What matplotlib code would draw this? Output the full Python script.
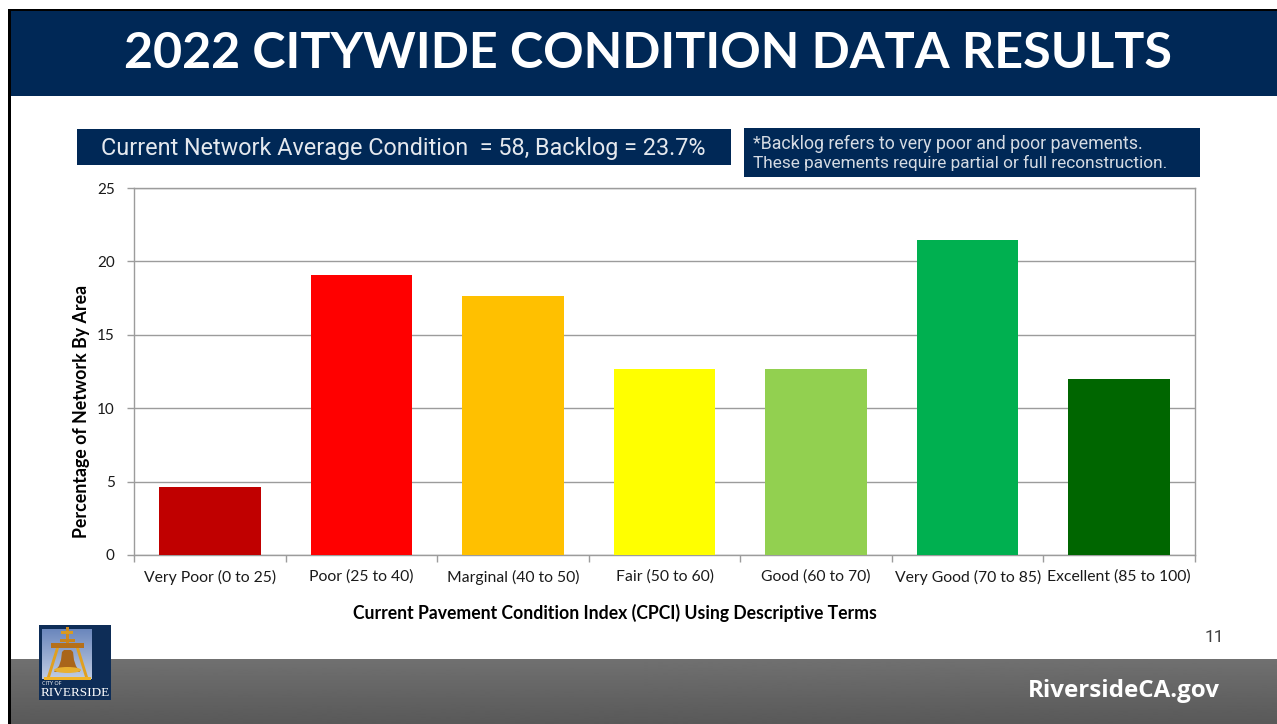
import numpy as np
import matplotlib
matplotlib.use("Agg")
import matplotlib.pyplot as plt
from matplotlib.patches import Rectangle, Polygon, Ellipse

W, H = 1277, 724

categories = ["Very Poor (0 to 25)", "Poor (25 to 40)", "Marginal (40 to 50)", "Fair (50 to 60)",
              "Good (60 to 70)", "Very Good (70 to 85)", "Excellent (85 to 100)"]
percent_area = [4.65, 19.05, 17.65, 12.7, 12.7, 21.45, 12.0]
bar_colors = ["#C00000", "#FF0000", "#FFC000", "#FFFF00", "#92D050", "#00B050", "#006600"]
y_ticks = [0, 5, 10, 15, 20, 25]

navy = "#002856"
grid_grey = "#9C9C9C"

fig = plt.figure(figsize=(W / 100, H / 100), dpi=100)

# slide background, in pixel coordinates
bg = fig.add_axes([0, 0, 1, 1])
bg.axis("off")

def box(ax, x0, y0, x1, y1, color, z=1):
    ax.add_patch(Rectangle((x0, y0), x1 - x0, y1 - y0, fc=color, ec="none", zorder=z))

box(bg, 8, 9, W, 11, "black")
box(bg, 8, 9, 11, H, "black")
box(bg, 11, 11, W, 96, navy)
grad = np.linspace(0.44, 0.35, 64).reshape(-1, 1)
bg.imshow(grad, extent=(11, W, H, 659), cmap="gray", vmin=0, vmax=1, aspect="auto", zorder=1)

bg.text(647.5, 53, "2022 CITYWIDE CONDITION DATA RESULTS", color="white", fontsize=36.2,
        fontweight="bold", family="Lato", ha="center", va="center")

box(bg, 77, 129, 731, 165, navy)
bg.text(101, 148.5, "Current Network Average Condition  = 58, Backlog = 23.7%", color="#E4E8EE",
        fontsize=16.85, family="Roboto", ha="left", va="center")
box(bg, 744, 128, 1200, 177, navy)
bg.text(753, 144, "*Backlog refers to very poor and poor pavements.", color="#D5DBE3",
        fontsize=12.75, family="Roboto", ha="left", va="center")
bg.text(753, 163, "These pavements require partial or full reconstruction.", color="#D5DBE3",
        fontsize=12.45, family="Roboto", ha="left", va="center")

bg.text(1214, 638, "11", color="#404040", fontsize=12.5, family="Roboto", ha="center", va="center")
bg.text(1123.5, 691, "RiversideCA.gov", color="white", fontsize=17.4, fontweight="bold",
        family="Open Sans", ha="center", va="center")

# city logo
box(bg, 39, 625, 111, 700, "#0E2D57", z=3)
sky = np.linspace(0.0, 1.0, 50).reshape(-1, 1)
sky_rgb = np.array([0.42, 0.53, 0.74]) + sky[..., None] * np.array([0.33, 0.27, 0.15])
bg.imshow(sky_rgb, extent=(42, 92, 679, 629), aspect="auto", zorder=4)
gold = "#E0A020"
box(bg, 65.5, 627, 68.5, 646, "#D08A1C", z=5)
box(bg, 61, 631, 73, 634, "#D89A20", z=5)
box(bg, 60, 638.5, 75, 642, "#C8841C", z=5)
box(bg, 51, 643, 84, 648, "#B5701A", z=5)
box(bg, 44, 677, 91, 680, "#F0B428", z=5)
bg.add_patch(Polygon([(56, 648), (59, 648), (50, 677), (47, 677)], fc=gold, ec="none", zorder=5))
bg.add_patch(Polygon([(76, 648), (79, 648), (88, 677), (85, 677)], fc=gold, ec="none", zorder=5))
bg.add_patch(Polygon([(62, 652), (64, 650), (71, 650), (73, 652), (74, 660), (76, 666), (80, 672),
                      (54, 672), (59, 666), (61, 660)], fc="#A9651A", ec="none", zorder=5))
bg.add_patch(Ellipse((67.5, 670), 27, 6, fc="#E8B030", ec="none", zorder=6))
bg.text(42, 683.5, "CITY OF", color="white", fontsize=4, family="Open Sans", va="center", zorder=6)
bg.text(75, 692.5, "RIVERSIDE", color="white", fontsize=9.5, family="Liberation Serif",
        ha="center", va="center", zorder=6)
bg.set_xlim(0, W)
bg.set_ylim(H, 0)

# chart
ax = fig.add_axes([134 / W, 1 - 555 / H, (1195 - 134) / W, (555 - 188) / H])
ax.patch.set_alpha(0)
index = np.arange(len(categories))
ax.bar(index, percent_area, 0.67, color=bar_colors, zorder=3)
ax.set_xlim(-0.5, len(categories) - 0.5)
ax.set_ylim(0, 25)
ax.set_yticks(y_ticks)
ax.set_xticks(index)
ax.set_xticklabels(categories, fontsize=11.35, family="Lato", color="#1A1A1A")
ax.set_yticklabels(y_ticks, fontsize=11, family="Lato", color="#1A1A1A")
ax.set_xticks(np.arange(len(categories) + 1) - 0.5, minor=True)
ax.tick_params(axis="x", which="major", length=0, pad=10.5)
ax.tick_params(axis="x", which="minor", length=5, color=grid_grey, width=1)
ax.tick_params(axis="y", length=5, color=grid_grey, width=1, pad=9)
ax.grid(axis="y", color=grid_grey, linewidth=1, zorder=0)
for s in ax.spines.values():
    s.set_color(grid_grey)
    s.set_linewidth(1)

bg.text(81.5, 411.5, "Percentage of Network By Area", rotation=90, fontsize=12.8, fontweight="bold",
        family="Lato", ha="center", va="center", color="black")
bg.text(615, 613, "Current Pavement Condition Index (CPCI) Using Descriptive Terms", fontsize=12.7,
        fontweight="bold", family="Lato", ha="center", va="center", color="black")

fig.savefig("out.png", dpi=100)
